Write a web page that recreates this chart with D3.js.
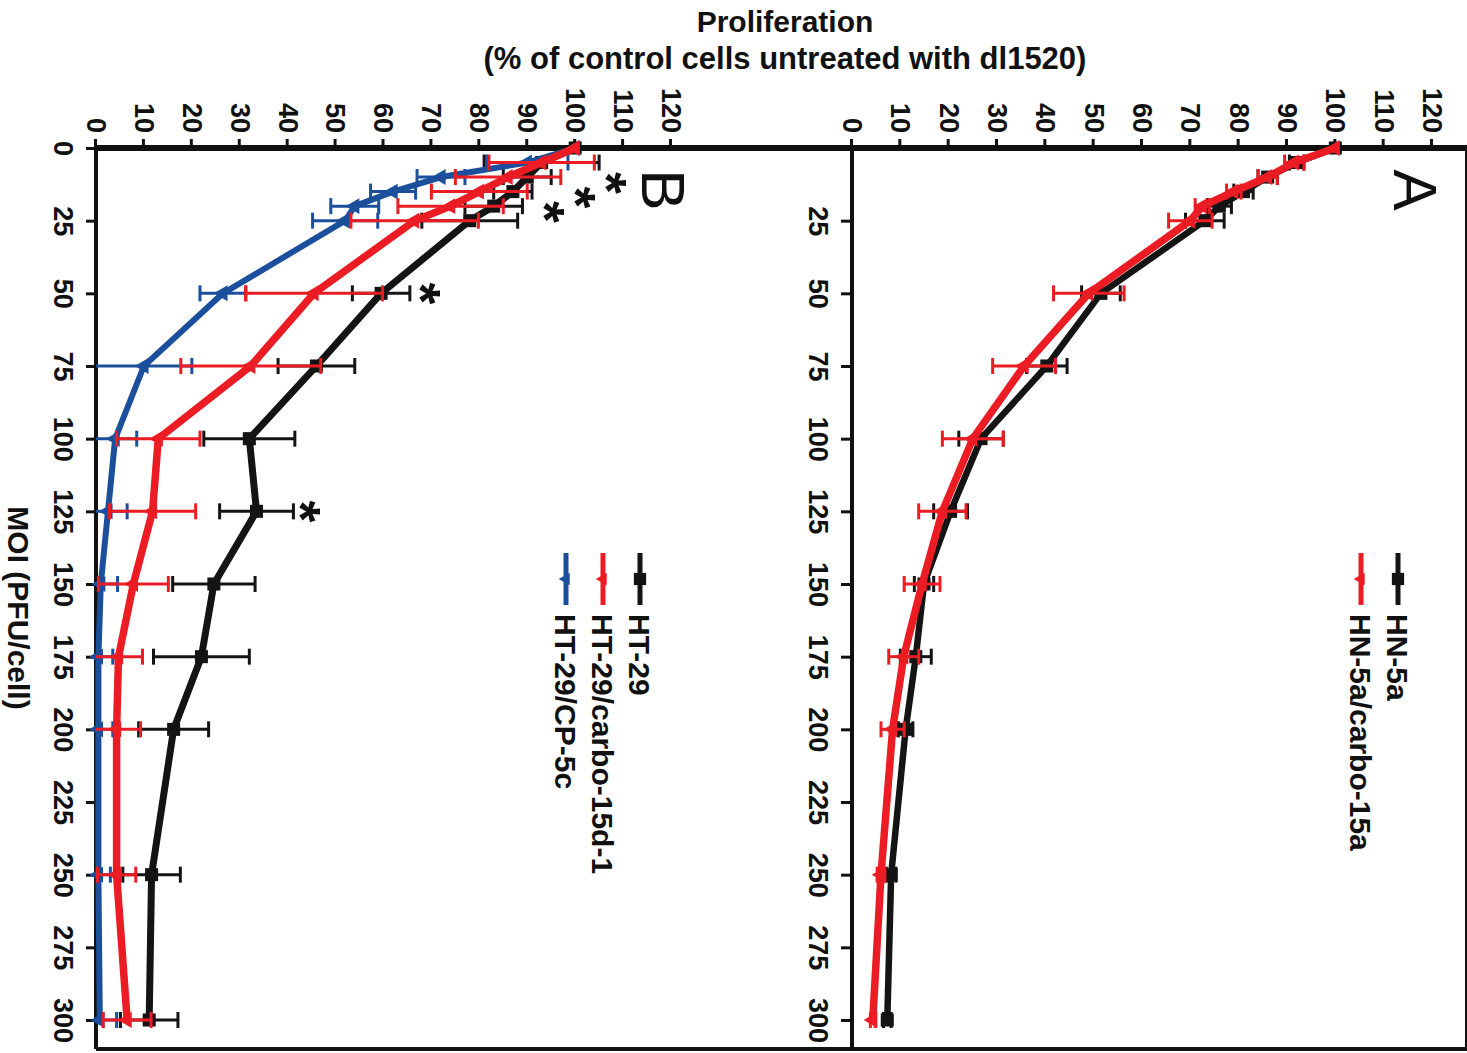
<!DOCTYPE html>
<html>
<head>
<meta charset="utf-8">
<script src="https://cdn.jsdelivr.net/npm/d3@7"></script>
<style>
  body { margin: 0; background: #fff; }
  svg { display: block; font-family: "Liberation Sans", Arial, Helvetica, sans-serif; }
</style>
</head>
<body>
<svg id="chart" width="1467" height="1053"></svg>
<script>
// MOI (PFU/cell) at which proliferation was measured
var moi = [0, 5, 10, 15, 20, 25, 50, 75, 100, 125, 150, 175, 200, 250, 300];

// Panel A
var hn5a         = [100, 92, 86, 81, 76, 73, 51.5, 40.3, 26.7, 20.4, 14.9, 13.2, 11.1, 8.1, 7.3];
var hn5aErr      = [0, 1.5, 2, 2, 2.5, 4, 4, 4.2, 4.6, 3.5, 2, 3.2, 1.5, 1, 0.8];
var hn5aCarbo    = [100, 91.5, 86, 79, 72.5, 70, 49, 35.6, 25, 18.7, 14.5, 10.7, 8.4, 6, 4.3];
var hn5aCarboErr = [0, 2, 2, 1.5, 1.5, 4.5, 7.3, 6.5, 6.3, 4.9, 3.7, 3.1, 2.4, 0.8, 0.5];

// Panel B
var ht29         = [100, 93, 90, 87, 83, 78, 59.5, 46, 32, 33.5, 24.6, 22, 16.2, 11.6, 11.1];
var ht29Err      = [0, 12, 5, 4, 6, 10, 6, 8, 9.5, 7.7, 8.6, 10, 7.3, 6, 6];
var ht29Carbo    = [100, 93, 86, 80, 74, 66.5, 45.5, 32.3, 13, 11.8, 7.8, 4.7, 4.3, 4.3, 6.5];
var ht29CarboErr = [0, 11, 11, 10, 11, 13.3, 14.3, 14.6, 8.7, 9, 7.3, 5, 5, 4, 5];
var ht29Cp       = [100, 90, 72, 62, 54, 52, 26.5, 10, 4, 2.5, 1, 0.5, 0.5, 0.5, 0.8];
var ht29CpErr    = [0, 8.5, 5, 4.7, 5, 6.8, 4.8, 10, 4.5, 4, 3.5, 3, 3, 2.5, 3.5];

// significance marks in panel B (MOI, level)
var starMoi   = [12, 17, 22, 50, 125];
var starLevel = [110, 103.5, 97, 71, 46];

var valueTicks = d3.range(0, 121, 10);
var moiTicks = d3.range(0, 301, 25);

var BLACK = '#141414', RED = '#ec1c24', BLUE = '#1b4f9c';

var svg = d3.select('#chart');

// title sits upright above the figure
svg.append('text').attr('x', 785).attr('y', 32).attr('text-anchor', 'middle')
  .attr('font-size', 30).attr('font-weight', 'bold').attr('fill', '#111')
  .text('Proliferation');
svg.append('text').attr('x', 785).attr('y', 69).attr('text-anchor', 'middle')
  .attr('font-size', 31).attr('font-weight', 'bold').attr('fill', '#111')
  .text('(% of control cells untreated with dl1520)');

// the graph itself is printed turned a quarter turn clockwise:
// everything below is drawn in the upright frame, then rotated
var g = svg.append('g').attr('transform', 'translate(1467,0) rotate(90)');

var x = d3.scaleLinear().domain([0, 300]).range([148, 1020]);
var yA = d3.scaleLinear().domain([0, 120]).range([615, 35]);
var yB = d3.scaleLinear().domain([0, 120]).range([1371, 796]);

var left = x(0), right = 1049, top = 23;

// frame
var frame = g.append('g').attr('stroke', '#111').attr('fill', 'none');
frame.append('line').attr('x1', left).attr('x2', left).attr('y1', top - 2).attr('y2', yB(0) + 2).attr('stroke-width', 6);
frame.append('line').attr('x1', right).attr('x2', right).attr('y1', top).attr('y2', yB(0)).attr('stroke-width', 4);
frame.append('line').attr('x1', left).attr('x2', right).attr('y1', top).attr('y2', top).attr('stroke-width', 4);
frame.append('line').attr('x1', left).attr('x2', right).attr('y1', yA(0)).attr('y2', yA(0)).attr('stroke-width', 4);
frame.append('line').attr('x1', left).attr('x2', right).attr('y1', yB(0)).attr('y2', yB(0)).attr('stroke-width', 4);

function styleAxis(ax) {
  ax.attr('font-size', 27).attr('font-family', null).attr('font-weight', 'bold').attr('color', '#111');
  ax.select('.domain').remove();
  ax.selectAll('.tick line').attr('stroke-width', 3);
}

// value axes (one per panel)
[yA, yB].forEach(function(y) {
  g.append('g').attr('transform', 'translate(' + left + ',0)')
    .call(d3.axisLeft(y).tickValues(valueTicks).tickSize(9).tickPadding(6))
    .call(styleAxis);
});

// MOI axes
g.append('g').attr('transform', 'translate(0,' + yA(0) + ')')
  .call(d3.axisBottom(x).tickValues(moiTicks.slice(1)).tickSize(11).tickPadding(13))
  .call(styleAxis);
g.append('g').attr('transform', 'translate(0,' + yB(0) + ')')
  .call(d3.axisBottom(x).tickValues(moiTicks).tickSize(10).tickPadding(13))
  .call(styleAxis);

g.append('text').attr('x', 608).attr('y', 1449).attr('dy', '0.35em')
  .attr('text-anchor', 'middle').attr('font-size', 30).attr('font-weight', 'bold').attr('fill', '#111')
  .text('MOI (PFU/cell)');

var squareSym = d3.symbol(d3.symbolSquare, 170);
var triSym = d3.symbol(d3.symbolTriangle, 110);

function drawSeries(y, vals, errs, color, width, marker) {
  var pts = moi.map(function(m, i) { return {m: m, v: vals[i], e: errs[i]}; });
  var s = g.append('g');
  var bars = s.selectAll('g.err').data(pts.filter(function(d) { return d.e > 0; }))
    .enter().append('g').attr('class', 'err')
    .attr('stroke', color).attr('stroke-width', 3);
  bars.append('line')
    .attr('x1', function(d) { return x(d.m); }).attr('x2', function(d) { return x(d.m); })
    .attr('y1', function(d) { return y(Math.max(0, d.v - d.e)); })
    .attr('y2', function(d) { return y(d.v + d.e); });
  [-1, 1].forEach(function(sign) {
    bars.filter(function(d) { return sign > 0 || d.v - d.e > 0; }).append('line')
      .attr('x1', function(d) { return x(d.m) - 8; }).attr('x2', function(d) { return x(d.m) + 8; })
      .attr('y1', function(d) { return y(d.v + sign * d.e); })
      .attr('y2', function(d) { return y(d.v + sign * d.e); });
  });
  s.append('path').datum(pts)
    .attr('fill', 'none').attr('stroke', color).attr('stroke-width', width)
    .attr('stroke-linejoin', 'round')
    .attr('d', d3.line().x(function(d) { return x(d.m); }).y(function(d) { return y(d.v); }));
  s.selectAll('path.mk').data(pts).enter().append('path').attr('class', 'mk')
    .attr('fill', color)
    .attr('transform', function(d) {
      return 'translate(' + x(d.m) + ',' + y(d.v) + ')' + (marker === 'tri' ? ' rotate(180)' : '');
    })
    .attr('d', marker === 'tri' ? triSym : squareSym);
}

drawSeries(yA, hn5a, hn5aErr, BLACK, 6.5, 'sq');
drawSeries(yA, hn5aCarbo, hn5aCarboErr, RED, 7.5, 'tri');

drawSeries(yB, ht29, ht29Err, BLACK, 7, 'sq');
drawSeries(yB, ht29Cp, ht29CpErr, BLUE, 6, 'tri');
drawSeries(yB, ht29Carbo, ht29CarboErr, RED, 7.5, 'tri');

// significance stars
g.selectAll('text.star').data(starMoi).enter().append('text').attr('class', 'star')
  .attr('x', function(d) { return x(d); })
  .attr('y', function(d, i) { return yB(starLevel[i]); })
  .attr('dy', '0.62em').attr('text-anchor', 'middle')
  .attr('font-size', 56).attr('font-weight', 'bold').attr('fill', '#111')
  .text('*');

// panel letters
g.append('text').attr('x', 190).attr('y', 51).attr('dy', '0.36em').attr('text-anchor', 'middle')
  .attr('font-size', 62).attr('fill', '#111').text('A');
g.append('text').attr('x', 190).attr('y', 803).attr('dy', '0.36em').attr('text-anchor', 'middle')
  .attr('font-size', 62).attr('fill', '#111').text('B');

// legends
function legend(entries, y0) {
  entries.forEach(function(e, i) {
    var yy = y0 + i * 37;
    var lg = g.append('g');
    lg.append('line').attr('x1', 553).attr('x2', 605).attr('y1', yy).attr('y2', yy)
      .attr('stroke', e.color).attr('stroke-width', 5);
    lg.append('path')
      .attr('transform', 'translate(579,' + yy + ')' + (e.marker === 'tri' ? ' rotate(180)' : ''))
      .attr('d', e.marker === 'tri' ? d3.symbol(d3.symbolTriangle, 70) : d3.symbol(d3.symbolSquare, 150))
      .attr('fill', e.color);
    lg.append('text').attr('x', 614).attr('y', yy).attr('dy', '0.36em')
      .attr('font-size', 30).attr('font-weight', 'bold').attr('fill', '#111').text(e.name);
  });
}
legend([
  {name: 'HN-5a', color: BLACK, marker: 'sq'},
  {name: 'HN-5a/carbo-15a', color: RED, marker: 'tri'}
], 69);
legend([
  {name: 'HT-29', color: BLACK, marker: 'sq'},
  {name: 'HT-29/carbo-15d-1', color: RED, marker: 'tri'},
  {name: 'HT-29/CP-5c', color: BLUE, marker: 'tri'}
], 827);
</script>
</body>
</html>
